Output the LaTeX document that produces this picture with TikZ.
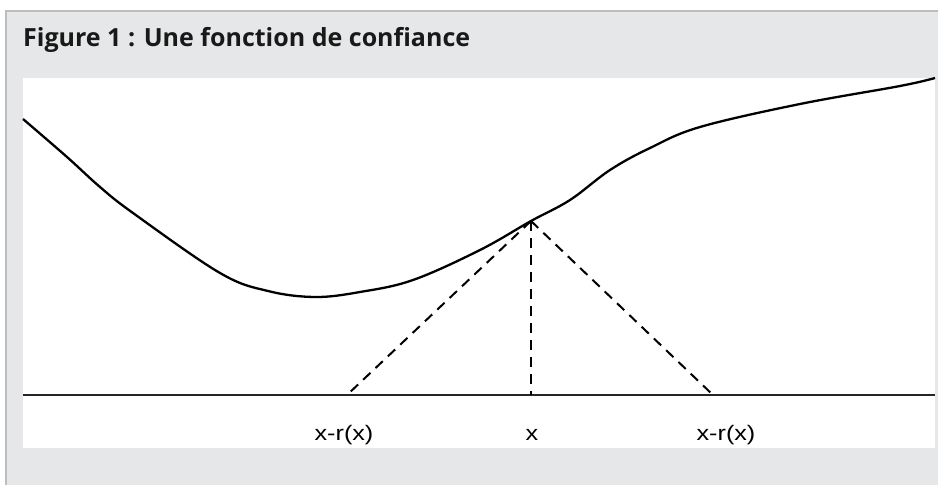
\documentclass[tikz,border=0pt]{standalone}
\usepackage{fontspec}
\setmainfont{Open Sans}
\newfontfamily\titlefont[Ligatures=NoCommon]{Open Sans}
\newfontfamily\labfont{Liberation Sans}
\definecolor{panelgray}{HTML}{E6E7E8}
\definecolor{framegray}{HTML}{BDBDBD}
\tikzset{
  curveline/.style={line width=2.3pt, line join=round},
  axisline/.style={line width=2.3pt, black!85},
  dashline/.style={line width=2pt, dash pattern=on 10pt off 7pt},
  lab/.style={inner sep=0pt},
}
\newcommand{\labtext}[1]{\scalebox{1.2}[1]{\labfont\fontsize{21}{24}\selectfont #1}}
\begin{document}
\begin{tikzpicture}[x=1pt,y=-1pt]
\useasboundingbox (0,0) rectangle (938,485);
\fill[white] (0,0) rectangle (938,485);
\fill[panelgray] (6,11) rectangle (938,485);
\draw[framegray, line width=2pt] (6,485) -- (6,11) -- (938,11);
\node[anchor=base west, inner sep=0pt, text=black!90] (title) at (23,46) {\resizebox{447pt}{\height}{\titlefont\bfseries\fontsize{25}{28}\selectfont Figure 1 : Une fonction de confiance}};
\fill[white] (23,78) rectangle (935,448);
% axis
\coordinate (axL) at (23,395);
\coordinate (axR) at (935,395);
\draw[axisline] (axL) -- (axR);
% apex and feet
\coordinate (apex) at (531,221);
\coordinate (footL) at (347,395);
\coordinate (footM) at (531,395);
\coordinate (footR) at (713,395);
\draw[dashline] (apex) -- (footL);
\draw[dashline] (apex) -- (footM);
\draw[dashline] (apex) -- (footR);
% curve
\draw[curveline] plot[smooth, tension=0.6] coordinates {
 (23,119) (67,157) (100,187) (133,213) (220,273) (268,291) (315,297) (360,292) (413,280) (480,250) (531,221) (570,200) (610,170) (650,148) (700,127) (800,104) (900,86) (935,78)};
% labels
\node[lab, anchor=base] (l1) at (344,440) {\labtext{x-r(x)}};
\node[lab, anchor=base] (l2) at (532,440) {\labtext{x}};
\node[lab, anchor=base] (l3) at (726,440) {\labtext{x-r(x)}};
\end{tikzpicture}
\end{document}
